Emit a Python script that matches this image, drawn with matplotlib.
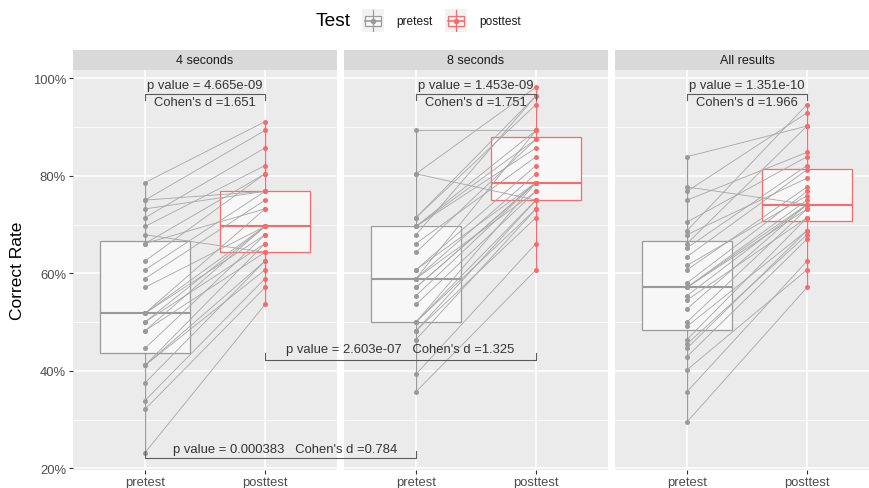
import numpy as np
import matplotlib.pyplot as plt
from matplotlib.patches import Rectangle

plt.rcParams['font.family'] = ['Liberation Sans', 'DejaVu Sans']

# ---- data (correct rate, %), one pair per participant ----
panels = ['4 seconds', '8 seconds', 'All results']
tests = ['pretest', 'posttest']

pre_4s = [78.6, 75.0, 75.0, 73.2, 71.4, 69.6, 67.9, 66.1, 66.1, 62.5, 60.7, 58.9, 57.1, 51.8,
          51.8, 51.8, 50.0, 50.0, 48.2, 48.2, 44.6, 41.1, 41.1, 41.1, 37.5, 33.9, 32.1, 23.2]
post_4s = [91.1, 76.8, 89.3, 76.8, 85.7, 82.1, 64.3, 80.4, 73.2, 80.4, 76.8, 75.0, 69.6, 73.2,
           69.6, 67.9, 69.6, 66.1, 69.6, 64.3, 67.9, 62.5, 66.1, 60.7, 62.5, 58.9, 57.1, 53.6]

pre_8s = [89.3, 80.4, 80.4, 71.4, 71.4, 69.6, 69.6, 69.6, 67.9, 66.1, 64.3, 60.7, 60.7, 58.9,
          58.9, 58.9, 57.1, 57.1, 55.4, 53.6, 50.0, 50.0, 50.0, 48.2, 48.2, 46.4, 39.3, 35.7]
post_8s = [89.3, 98.2, 75.0, 96.4, 94.6, 87.5, 89.3, 85.7, 96.4, 83.9, 87.5, 82.1, 78.6, 80.4,
           89.3, 76.8, 78.6, 78.6, 78.6, 76.8, 75.0, 78.6, 73.2, 71.4, 75.0, 73.2, 66.1, 60.7]

pre_all = [83.9, 77.7, 76.8, 75.0, 70.5, 68.75, 67.9, 66.1, 65.2, 63.4, 61.6, 60.7, 58.0, 57.1,
           57.1, 57.1, 55.4, 54.5, 52.7, 50.0, 49.1, 46.4, 45.5, 44.6, 42.9, 40.2, 35.7, 29.5]
post_all = [90.2, 74.1, 92.9, 84.8, 83.9, 94.6, 79.5, 90.2, 82.1, 81.25, 75.9, 77.7, 76.8, 74.1,
            75.0, 73.2, 74.1, 71.4, 74.1, 73.2, 68.75, 71.4, 67.9, 68.75, 67.0, 60.7, 62.5, 57.1]

p_within = ['4.665e-09', '1.453e-09', '1.351e-10']
d_within = ['1.651', '1.751', '1.966']
p_post_4v8, d_post_4v8 = '2.603e-07', '1.325'
p_pre_4v8, d_pre_4v8 = '0.000383', '0.784'

pre_list = [pre_4s, pre_8s, pre_all]
post_list = [post_4s, post_8s, post_all]

# ---- style ----
W, H = 870, 489
col_pre = '#9A9A9A'
col_post = '#F96B6B'
col_line = '#A6A6A6'
col_txt = '#333333'
col_tick = '#4D4D4D'


def fx(px):
    return px / W


def fy(py):
    return 1 - py / H


fig = plt.figure(figsize=(W / 100, H / 100), dpi=100)

panel_left = [73, 344, 615]
pw = 264
top, bottom = 70.7, 470.5
strip_top = 51

axes = []
for i, name in enumerate(panels):
    ax = fig.add_axes([fx(panel_left[i]), fy(bottom), pw / W, (bottom - top) / H])
    ax.set_facecolor('#EBEBEB')

    pre = pre_list[i]
    post = post_list[i]
    for c, pos, vals in [(col_pre, 1, pre), (col_post, 2, post)]:
        ax.boxplot([vals], positions=[pos], widths=0.75, whis=1.5, showfliers=False,
                   showcaps=False, patch_artist=True, manage_ticks=False,
                   boxprops=dict(facecolor='#F7F7F7', edgecolor=c, lw=0.9),
                   whiskerprops=dict(color=c, lw=0.9),
                   medianprops=dict(color=c, lw=1.5), zorder=2)
    for a, b in zip(pre, post):
        ax.plot([1, 2], [a, b], color=col_line, lw=0.6, zorder=3)
    ax.scatter([1] * len(pre), pre, s=13, color=col_pre, zorder=4, lw=0)
    ax.scatter([2] * len(post), post, s=13, color=col_post, zorder=4, lw=0)

    ax.set_xlim(0.4, 2.6)
    ax.set_ylim(19.75, 101.75)
    ax.set_yticks([20, 40, 60, 80, 100])
    ax.set_yticks([30, 50, 70, 90], minor=True)
    ax.set_yticklabels(['20%', '40%', '60%', '80%', '100%'])
    ax.set_xticks([1, 2])
    ax.set_xticklabels(tests)
    ax.grid(which='major', color='white', lw=1.1)
    ax.grid(which='minor', axis='y', color='white', lw=0.55)
    ax.set_axisbelow(True)
    for s in ax.spines.values():
        s.set_visible(False)
    ax.tick_params(which='major', length=3, width=0.8, color='#333333',
                   labelcolor=col_tick, labelsize=9.4, pad=2)
    ax.tick_params(which='minor', length=0)
    if i > 0:
        ax.tick_params(axis='y', left=False, labelleft=False)

    # within-panel comparison
    ax.plot([1, 1, 2, 2], [95.6, 96.85, 96.85, 95.6], color='#5A5A5A', lw=0.8, zorder=5)
    ax.text(1.5, 98.6, 'p value = ' + p_within[i], ha='center', va='center',
            fontsize=9.4, color=col_txt, zorder=6)
    ax.text(1.5, 95.1, "Cohen's d =" + d_within[i], ha='center', va='center',
            fontsize=9.4, color=col_txt, zorder=6)

    # strip
    sx = fig.add_axes([fx(panel_left[i]), fy(top), pw / W, (top - strip_top) / H])
    sx.set_facecolor('#D9D9D9')
    sx.set_xticks([])
    sx.set_yticks([])
    for s in sx.spines.values():
        s.set_visible(False)
    sx.text(0.5, 0.5, name, ha='center', va='center', fontsize=9, color='#1A1A1A',
            transform=sx.transAxes)
    axes.append(ax)

ax1, ax2 = axes[0], axes[1]
ax1.set_zorder(5)


def x_in_ax1(x2):
    disp = ax2.transData.transform((x2, 50))
    return ax1.transData.inverted().transform(disp)[0]


# posttest 4s vs posttest 8s
xa, xb = 2, x_in_ax1(2)
ax1.plot([xa, xa, xb, xb], [43.6, 42.3, 42.3, 43.6], color='#5A5A5A', lw=0.8,
         clip_on=False, zorder=5)
ax1.text((xa + xb) / 2, 44.4, 'p value = ' + p_post_4v8 + "   Cohen's d =" + d_post_4v8,
         ha='center', va='center', fontsize=9.4, color=col_txt, clip_on=False, zorder=6)

# pretest 4s vs pretest 8s
xa, xb = 1, x_in_ax1(1)
ax1.plot([xa, xa, xb, xb], [23.5, 22.05, 22.05, 23.5], color='#5A5A5A', lw=0.8,
         clip_on=False, zorder=5)
ax1.text((xa + xb) / 2 + 0.04, 23.9, 'p value = ' + p_pre_4v8 + "   Cohen's d =" + d_pre_4v8,
         ha='center', va='center', fontsize=9.4, color=col_txt, clip_on=False, zorder=6)

fig.text(fx(18), fy((top + bottom) / 2), 'Correct Rate', rotation=90, ha='center',
         va='center', fontsize=12.5, color='black')

# legend
fig.text(fx(316), fy(22), 'Test', ha='left', va='center', fontsize=13.8, color='black')
for kx, c, lab, tx in [(362.3, col_pre, 'pretest', 396), (445, col_post, 'posttest', 479)]:
    k = fig.add_axes([fx(kx), fy(33.3), 22 / W, 23 / H])
    k.set_facecolor('#F2F2F2')
    k.set_xlim(0, 1)
    k.set_ylim(0, 1)
    k.set_xticks([])
    k.set_yticks([])
    for s in k.spines.values():
        s.set_visible(False)
    k.plot([0.5, 0.5], [0.04, 0.96], color=c, lw=0.9)
    k.add_patch(Rectangle((0.13, 0.27), 0.74, 0.46, facecolor='#F7F7F7', edgecolor=c, lw=0.9))
    k.plot([0.13, 0.87], [0.5, 0.5], color=c, lw=1.2)
    k.scatter([0.5], [0.5], s=16, color=c, zorder=3, lw=0)
    fig.text(fx(tx), fy(21.7), lab, ha='left', va='center', fontsize=8.6, color='#1A1A1A')

fig.savefig('out.png', dpi=100)
